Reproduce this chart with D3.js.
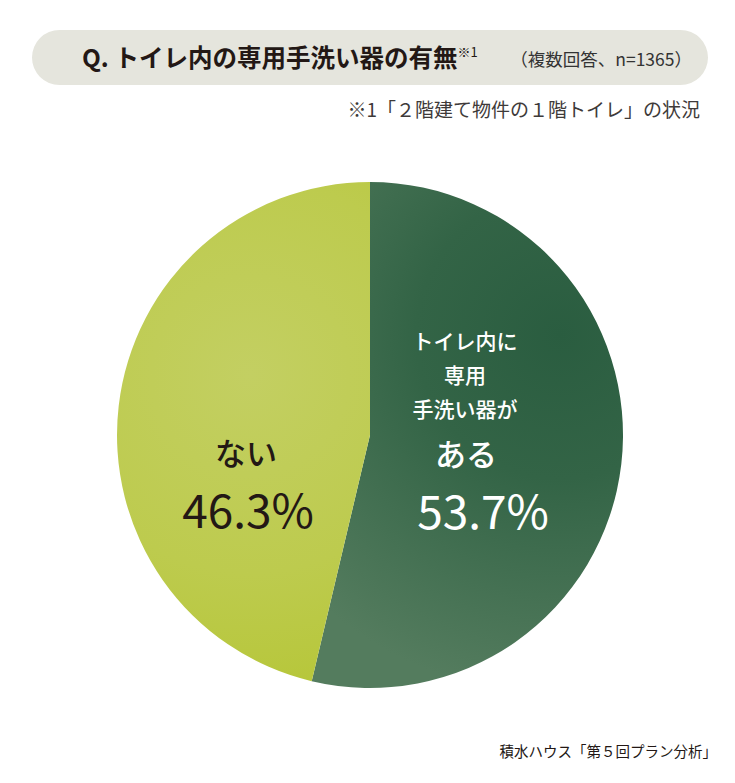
<!DOCTYPE html>
<html>
<head>
<meta charset="utf-8">
<script src="https://cdn.jsdelivr.net/npm/d3@7"></script>
<style>
  body { margin: 0; background: #fff; }
  svg { display: block; font-family: "Noto Sans CJK JP", "Noto Sans", sans-serif; }
</style>
</head>
<body>
<div id="chart"></div>
<script>
const categories = ["ある", "ない"];
const values = [53.7, 46.3];
const valueLabels = ["53.7%", "46.3%"];
const ariLines = ["トイレ内に", "専用", "手洗い器が"];

const width = 735;
const height = 783;

const svg = d3.select("#chart")
    .append("svg")
    .attr("width", width)
    .attr("height", height);

const defs = svg.append("defs");

// 円の中心を原点とした座標でグラデーションを指定
const darkGrad = defs.append("radialGradient")
    .attr("id", "darkGrad")
    .attr("gradientUnits", "userSpaceOnUse")
    .attr("cx", 190).attr("cy", -100).attr("r", 360);
darkGrad.append("stop").attr("offset", "0%").attr("stop-color", "#2a5d40");
darkGrad.append("stop").attr("offset", "40%").attr("stop-color", "#336446");
darkGrad.append("stop").attr("offset", "100%").attr("stop-color", "#547c5e");

const lightGrad = defs.append("radialGradient")
    .attr("id", "lightGrad")
    .attr("gradientUnits", "userSpaceOnUse")
    .attr("cx", -120).attr("cy", -60).attr("r", 330);
lightGrad.append("stop").attr("offset", "0%").attr("stop-color", "#c3cf62");
lightGrad.append("stop").attr("offset", "60%").attr("stop-color", "#bdcb4e");
lightGrad.append("stop").attr("offset", "100%").attr("stop-color", "#b6c638");

// タイトル
svg.append("rect")
    .attr("x", 32).attr("y", 30)
    .attr("width", 676).attr("height", 55)
    .attr("rx", 27.5)
    .attr("fill", "#e5e5dd");

const title = svg.append("text")
    .attr("x", 82).attr("y", 67)
    .attr("fill", "#231815");
title.append("tspan")
    .attr("font-size", 24.5).attr("font-weight", "bold")
    .text("Q. トイレ内の専用手洗い器の有無");
title.append("tspan")
    .attr("font-size", 13).attr("dy", -10)
    .attr("fill", "#231815")
    .text("※1");

svg.append("text")
    .attr("x", 692).attr("y", 66)
    .attr("text-anchor", "end")
    .attr("font-size", 17.5)
    .attr("fill", "#333")
    .text("（複数回答、n=1365）");

svg.append("text")
    .attr("x", 700).attr("y", 117)
    .attr("text-anchor", "end")
    .attr("font-size", 19)
    .attr("fill", "#3e3a39")
    .text("※1「２階建て物件の１階トイレ」の状況");

// 円グラフ
const cx = 370, cy = 435, radius = 253;

const pie = d3.pie().sort(null).value(d => d);
const arc = d3.arc().innerRadius(0).outerRadius(radius);
const fills = ["url(#darkGrad)", "url(#lightGrad)"];

const g = svg.append("g").attr("transform", `translate(${cx},${cy})`);

g.selectAll("path")
    .data(pie(values))
    .enter().append("path")
    .attr("d", arc)
    .attr("fill", (d, i) => fills[i]);

// ラベル（あり）
const ari = svg.append("g")
    .attr("fill", "#fff")
    .attr("font-weight", 500)
    .attr("text-anchor", "middle");
ari.selectAll(".line")
    .data(ariLines)
    .enter().append("text")
    .attr("x", 465)
    .attr("y", (d, i) => 349 + i * 34)
    .attr("font-size", 21)
    .text(d => d);
ari.append("text")
    .attr("x", 466).attr("y", 466)
    .attr("font-size", 31)
    .text(categories[0]);
ari.append("text")
    .attr("x", 483).attr("y", 529)
    .attr("font-size", 46)
    .attr("font-weight", 400)
    .text(valueLabels[0]);

// ラベル（なし）
const nashi = svg.append("g")
    .attr("fill", "#231815")
    .attr("font-weight", 500)
    .attr("text-anchor", "middle");
nashi.append("text")
    .attr("x", 246).attr("y", 465)
    .attr("font-size", 31)
    .text(categories[1]);
nashi.append("text")
    .attr("x", 248).attr("y", 528)
    .attr("font-size", 46)
    .attr("font-weight", 400)
    .text(valueLabels[1]);

// 出典
svg.append("text")
    .attr("x", 717).attr("y", 757)
    .attr("text-anchor", "end")
    .attr("font-size", 14.5)
    .attr("fill", "#231815")
    .text("積水ハウス「第５回プラン分析」");
</script>
</body>
</html>
